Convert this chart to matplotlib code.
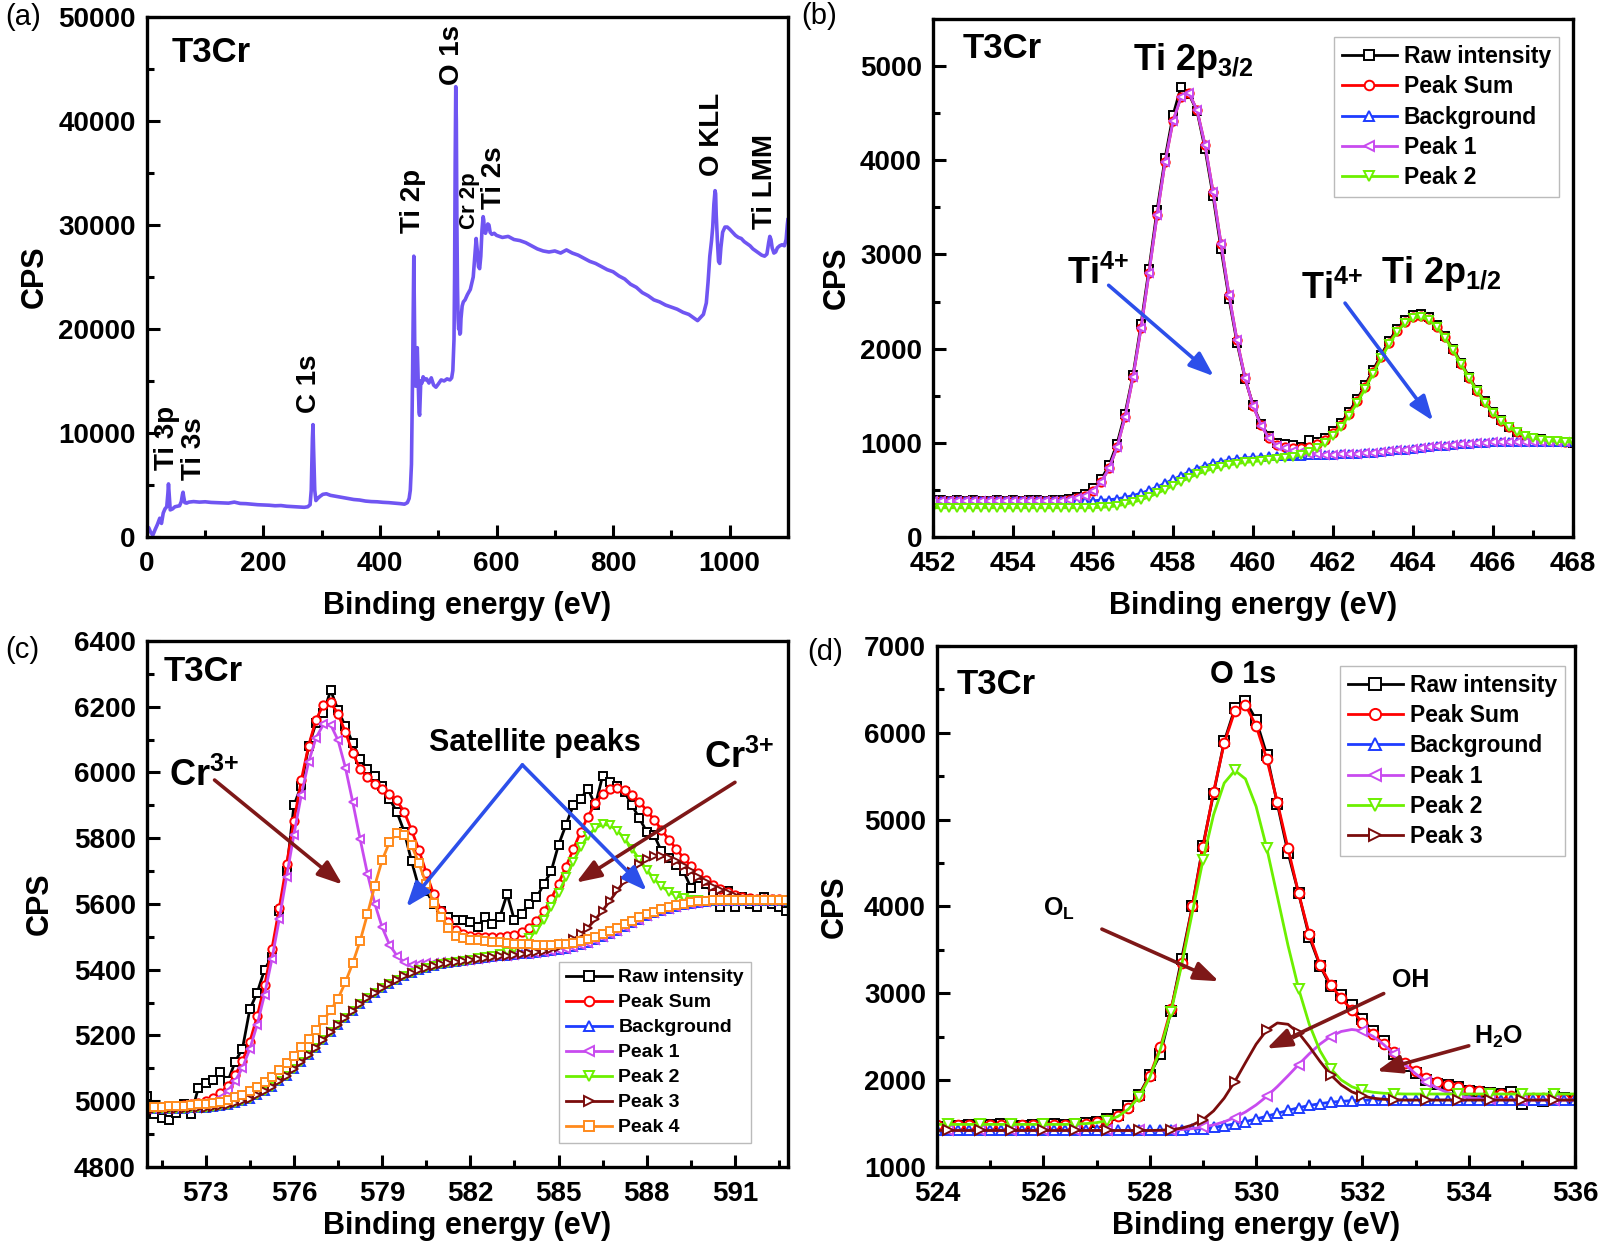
import numpy as np
import matplotlib
matplotlib.use("Agg")
import matplotlib.pyplot as plt
from matplotlib.ticker import MultipleLocator

plt.rcParams['font.family'] = ['Liberation Sans', 'DejaVu Sans']
plt.rcParams['font.weight'] = 'bold'
plt.rcParams['axes.labelweight'] = 'bold'
plt.rcParams['mathtext.default'] = 'regular'

# ---------------- (a) survey spectrum ----------------
survey_ev = [
    0, 3, 6, 10, 14, 18, 22, 25, 28, 31,
    34, 36, 37, 38, 40, 44, 48, 52, 56, 59,
    61, 62, 63, 65, 68, 72, 80, 90, 100, 110,
    120, 130, 140, 150, 160, 170, 180, 190, 200, 210,
    220, 230, 240, 250, 260, 270, 276, 280, 282, 284,
    285, 286, 288, 290, 293, 297, 302, 308, 315, 325,
    335, 345, 355, 365, 375, 385, 395, 405, 415, 425,
    435, 442, 447, 450, 452, 454, 456, 457, 458, 459,
    460, 461, 462, 463, 464, 465, 466, 467, 468, 469,
    470, 472, 474, 477, 480, 484, 488, 492, 496, 500,
    505, 510, 515, 520, 523, 525, 527, 528, 529, 530,
    531, 532, 533, 534, 535, 536, 537, 538, 539, 541,
    543, 546, 550, 555, 560, 563, 565, 567, 569, 571,
    573, 575, 577, 578, 579, 581, 583, 585, 587, 589,
    592, 596, 600, 610, 620, 630, 640, 650, 660, 670,
    680, 690, 700, 710, 720, 730, 740, 750, 760, 770,
    780, 790, 800, 810, 820, 830, 840, 850, 860, 870,
    880, 890, 900, 910, 920, 930, 940, 945, 950, 955,
    960, 963, 966, 969, 971, 973, 975, 976, 977, 979,
    981, 983, 985, 988, 992, 996, 1000, 1005, 1010, 1015,
    1020, 1025, 1030, 1035, 1040, 1045, 1050, 1055, 1060, 1064,
    1067, 1069, 1071, 1073, 1076, 1079, 1082, 1086, 1090, 1094,
    1097, 1099, 1100]
survey_cps = [
    700, 900, 500, 150, 700, 1200, 1800, 1300, 2300, 2700,
    2900, 4200, 5100, 4300, 2600, 2700, 2900, 2950, 3000, 3400,
    4100, 4300, 3900, 3300, 3250, 3350, 3400, 3350, 3380, 3320,
    3300, 3280, 3250, 3350, 3220, 3200, 3150, 3100, 3080, 3050,
    3000, 3020, 2950, 2920, 2880, 2850, 2900, 3100, 4500, 9500,
    10800, 8500, 4500, 3500, 3700, 3900, 4100, 4150, 4000, 3900,
    3800, 3700, 3600, 3550, 3450, 3400, 3380, 3330, 3300, 3250,
    3200, 3150, 3300, 3700, 4500, 7000, 16000, 22000, 27000, 22000,
    16000, 14500, 15500, 17500, 18200, 16000, 13500, 12000, 11700, 13500,
    15000, 14800, 15400, 15100, 15200, 14800, 15300, 14600, 14400, 14700,
    15100, 15000, 15200, 15100, 15300, 16000, 19000, 25000, 36000, 43300,
    40000, 30000, 24000, 21000, 20000, 20500, 19500, 19600, 21000, 22200,
    22600, 22800, 23300, 23800, 25000, 27200, 28700, 27500, 26000, 25800,
    27000, 29500, 30800, 30500, 29500, 29200, 29600, 30100, 30000, 29300,
    29100, 29200, 29000, 28800, 28900, 28600, 28500, 28300, 28000, 27700,
    27500, 27400, 27500, 27300, 27600, 27300, 27100, 26800, 26500, 26300,
    26000, 25700, 25500, 25100, 24800, 24300, 24000, 23500, 23200, 22800,
    22600, 22300, 22100, 21900, 21600, 21400, 21000, 20800, 21100, 21400,
    22500, 24500, 27000, 28500, 29800, 32000, 33300, 33000, 31000, 28500,
    26500, 26300, 27800, 29300, 29800, 29800, 29600, 29300, 29000, 28800,
    28700, 28400, 28200, 28000, 27700, 27500, 27300, 27100, 27000, 27200,
    28300, 28900, 28600, 27800, 27300, 27400, 27800, 28000, 28100, 28000,
    28600, 30000, 30500]

survey_labels = ['Ti 3p', 'Ti 3s', 'C 1s', 'Ti 2p', 'O 1s', 'Cr 2p', 'Ti 2s', 'O KLL', 'Ti LMM']
survey_label_x = [34, 80, 279, 457, 523, 553, 595, 969, 1061]
survey_label_y = [6450, 5500, 11950, 29200, 43440, 29590, 31490, 34710, 29590]

# ---------------- (b) Ti 2p, 452-468 eV every 0.2 eV ----------------
ti_ev = np.round(np.linspace(452, 468, 81), 2)
ti_raw = [392, 388, 380, 395, 385, 390, 384, 378, 392, 386, 395, 383, 389, 391, 380, 387, 396, 405, 425, 460, 525,
          610, 760, 990, 1310, 1720, 2260, 2850, 3470, 4020, 4480, 4780, 4700, 4520, 4120, 3620, 3060, 2530, 2060, 1680, 1400,
          1200, 1070, 1000, 985, 975, 960, 1030, 1010, 1050, 1120, 1210, 1330, 1460, 1610, 1770, 1930, 2080, 2210, 2300, 2360,
          2370, 2340, 2250, 2130, 2000, 1850, 1700, 1560, 1440, 1330, 1245, 1170, 1115, 1075, 1050, 1035, 1020, 1010, 1005, 1000]
ti_sum = [385] * 17 + [397, 411, 439, 490,
          581, 728, 953, 1273, 1698, 2218, 2808, 3415, 3977, 4416, 4672, 4712, 4531, 4162, 3665, 3113, 2568, 2086, 1691, 1393,
          1186, 1051, 977, 956, 944, 942, 955, 984, 1029, 1102, 1194, 1308, 1442, 1591, 1751, 1912, 2062, 2190, 2285, 2339,
          2348, 2312, 2234, 2122, 1987, 1840, 1692, 1553, 1428, 1321, 1234, 1164, 1111, 1074, 1048, 1032, 1021, 1014, 1010, 1008]
ti_bg = [385] * 21 + [390, 395, 405, 420, 440, 465, 495, 530, 570, 610, 650, 690, 725, 755, 780, 800, 815, 828, 838, 845,
          850, 855, 858, 860, 862, 864, 866, 868, 870, 873, 876, 880, 885, 890, 896, 903, 910, 918, 926, 935,
          944, 953, 962, 970, 978, 985, 991, 996, 1000, 1003] + [1005] * 10
ti_p1 = [385] * 17 + [397, 411, 439, 490,
          581, 728, 953, 1273, 1698, 2218, 2808, 3415, 3977, 4416, 4672, 4712, 4531, 4162, 3665, 3113, 2568, 2086, 1691, 1393,
          1183, 1046, 968, 940, 917, 899, 886, 878, 870, 873, 876, 880, 885, 890, 896, 903, 910, 918, 926, 935,
          944, 953, 962, 970, 978, 985, 991, 996, 1000, 1003] + [1005] * 10
ti_p2 = [310] * 21 + [315, 320, 331, 347, 368, 394, 426, 462, 503, 545, 587, 629, 666, 698, 725, 747, 764, 779, 791, 800,
          810, 819, 828, 839, 854, 874, 904, 945, 1002, 1077, 1170, 1286, 1421, 1572, 1733, 1895, 2047, 2176, 2272, 2327,
          2337, 2302, 2226, 2115, 1981, 1835, 1688, 1550, 1426, 1320, 1234, 1164, 1111, 1074, 1048, 1032, 1021, 1014, 1010, 1008]

# ---------------- (c) Cr 2p, 571-592.75 eV every 0.25 eV ----------------
cr_ev = np.round(np.linspace(571, 592.75, 88), 2)
cr_bg = [4975, 4975, 4976, 4976, 4977, 4977, 4978, 4979, 4980, 4982,
         4985, 4989, 4994, 5000, 5008, 5018, 5030, 5044, 5060, 5078,
         5097, 5118, 5140, 5163, 5186, 5209, 5232, 5254, 5275, 5295,
         5313, 5330, 5345, 5358, 5370, 5381, 5390, 5398, 5405, 5411,
         5416, 5420, 5424, 5428, 5431, 5434, 5437, 5439, 5441, 5443,
         5445, 5447, 5449, 5451, 5453, 5456, 5459, 5463, 5468, 5474,
         5481, 5489, 5498, 5508, 5519, 5530, 5541, 5552, 5562, 5571,
         5579, 5586, 5592, 5597, 5601, 5604, 5606, 5608, 5609, 5610] + [5610] * 8
cr_p1 = [4975, 4975, 4976, 4976, 4978, 4978, 4980, 4984, 4988, 4997,
         5011, 5031, 5061, 5102, 5159, 5233, 5324, 5432, 5553, 5683,
         5811, 5931, 6032, 6105, 6146, 6145, 6098, 6015, 5910, 5798,
         5692, 5601, 5529, 5476, 5443, 5423, 5413, 5418, 5420, 5421,
         5422, 5424, 5426, 5428] + cr_bg[44:]
cr_p2 = cr_bg[:44] + [5431, 5435, 5439, 5442, 5447, 5454,
         5464, 5477, 5496, 5520, 5551, 5590, 5634, 5681, 5728, 5772,
         5807, 5831, 5842, 5839, 5823, 5798, 5768, 5735, 5704, 5676,
         5654, 5637, 5625, 5618, 5613, 5611, 5610, 5610, 5610, 5610] + [5610] * 8
cr_p3 = cr_bg[:51] + [5448, 5450, 5453, 5457, 5462, 5469, 5479, 5492, 5508,
         5528, 5553, 5580, 5610, 5641, 5671, 5698, 5721, 5736, 5745,
         5746, 5740, 5730, 5715, 5699, 5682, 5666, 5653, 5641, 5632,
         5625, 5619, 5616, 5613, 5612, 5611, 5611, 5610]
cr_p4 = [4981, 4982, 4983, 4984, 4985, 4986, 4988, 4990, 4992, 4995,
         4999, 5005, 5012, 5020, 5030, 5043, 5058, 5075, 5094, 5116,
         5139, 5164, 5190, 5218, 5246, 5277, 5312, 5362, 5420, 5487,
         5569, 5656, 5733, 5788, 5815, 5811, 5778, 5724, 5661, 5603,
         5561, 5528, 5504, 5496, 5491, 5489, 5487, 5485, 5483, 5481,
         5479, 5478, 5477, 5476, 5475, 5476, 5477, 5479, 5482, 5487,
         5493, 5500, 5508, 5517, 5527, 5538, 5548, 5559, 5568, 5577,
         5584, 5591, 5597, 5601, 5605, 5608, 5610, 5612, 5613, 5613] + [5613] * 8
cr_sum = [4981, 4982, 4983, 4984, 4986, 4987, 4990, 4995, 5000, 5010,
          5025, 5047, 5079, 5122, 5181, 5258, 5352, 5463, 5587, 5721,
          5853, 5977, 6082, 6160, 6206, 6213, 6178, 6123, 6060, 6010,
          5985, 5965, 5950, 5935, 5915, 5880, 5825, 5765, 5695, 5630,
          5580, 5545, 5520, 5508, 5503, 5500, 5499, 5498, 5499, 5502,
          5506, 5514, 5528, 5549, 5578, 5616, 5662, 5713, 5766, 5819,
          5866, 5906, 5934, 5950, 5953, 5947, 5932, 5911, 5884, 5856,
          5826, 5796, 5768, 5740, 5715, 5693, 5674, 5659, 5646, 5635,
          5628, 5622, 5619, 5616, 5615, 5614, 5614, 5613]
cr_raw = [5015, 4960, 4950, 4942, 4965, 4990, 4960, 5040, 5055, 5065,
          5090, 5060, 5120, 5160, 5280, 5330, 5400, 5440, 5580, 5700,
          5900, 5960, 6080, 6150, 6180, 6250, 6190, 6140, 6090, 6040,
          6010, 5990, 5960, 5920, 5880, 5820, 5730, 5650, 5640, 5600,
          5580, 5560, 5550, 5550, 5545, 5530, 5560, 5540, 5560, 5630,
          5550, 5570, 5600, 5620, 5660, 5700, 5780, 5840, 5900, 5920,
          5950, 5900, 5990, 5970, 5960, 5940, 5900, 5860, 5820, 5810,
          5760, 5740, 5720, 5700, 5650, 5680, 5660, 5630, 5590, 5640,
          5590, 5620, 5600, 5590, 5620, 5600, 5590, 5580]

# ---------------- (d) O 1s, 524-536 eV every 0.2 eV ----------------
o_ev = np.round(np.linspace(524, 536, 61), 2)
o_bg = [1420] * 23 + [1425, 1432, 1442, 1456, 1474, 1496, 1522, 1552, 1584, 1618, 1651, 1682,
                      1708, 1729, 1745, 1756, 1763, 1768] + [1770] * 20
o_p1 = [1420] * 22 + [1423, 1430, 1441, 1458, 1484, 1520, 1569, 1633, 1714, 1812, 1926, 2050, 2179,
                      2303, 2414, 2502, 2560, 2583,
                      2568, 2504, 2409, 2297, 2180, 2073, 1981, 1909, 1857, 1822, 1799, 1785,
                      1778, 1774, 1772, 1771] + [1770] * 5
o_p2 = [1490] * 13 + [1494, 1499, 1510, 1534, 1581, 1666, 1808, 2031, 2355, 2789, 3326, 3928, 4531,
                      5056, 5421, 5566, 5469, 5152, 4673, 4114, 3552, 3051, 2643, 2340, 2133, 2002,
                      1924, 1882, 1860, 1849, 1844] + [1840] * 17
o_p3 = [1420] * 21 + [1423, 1429, 1447, 1482, 1544, 1645, 1792, 1984, 2201, 2413, 2576, 2658, 2643,
                      2543, 2387, 2217, 2063, 1945, 1865, 1818, 1792, 1779, 1773] + [1770] * 17
o_sum = [1480] * 13 + [1490, 1500, 1515, 1540, 1590, 1680, 1820, 2050, 2380, 2820, 3350, 4000, 4680,
                       5320, 5880, 6250, 6320, 6080, 5700, 5200, 4670, 4150, 3680, 3330, 3100, 2940,
                       2810, 2660, 2530, 2420, 2320, 2200, 2110, 2030, 1975, 1945, 1915, 1890, 1870,
                       1850, 1835, 1820, 1805, 1795, 1790, 1785, 1780, 1778]
o_raw = [1460, 1440, 1475, 1480, 1470, 1485, 1490, 1480, 1470, 1488, 1500, 1495, 1485,
         1495, 1505, 1520, 1550, 1600, 1700, 1830, 2060, 2300, 2800, 3400, 4000, 4700,
         5300, 5900, 6280, 6370, 6150, 5750, 5180, 4620, 4150, 3650, 3320, 3080, 2980,
         2860, 2700, 2560, 2450, 2300, 2160, 2080, 2000, 1960, 1940, 1920, 1880, 1860,
         1850, 1840, 1860, 1720, 1770, 1760, 1800, 1790, 1780]

styles = {
    'Raw intensity': ('#000000', 's'),
    'Peak Sum': ('#FF0000', 'o'),
    'Background': ('#1E3CFF', '^'),
    'Peak 1': ('#C84BEF', '<'),
    'Peak 2': ('#6CF000', 'v'),
    'Peak 3': ('#7A0C0C', '>'),
    'Peak 4': ('#FF8A1C', 's'),
}
maroon = '#7E1818'
arrow_blue = '#2C4FEA'


def setup(ax, xlim, ylim, xmaj, xmin, ymaj, ymin, xpad, ypad):
    ax.set_xlim(xlim)
    ax.set_ylim(ylim)
    ax.xaxis.set_major_locator(MultipleLocator(xmaj))
    ax.xaxis.set_minor_locator(MultipleLocator(xmin))
    ax.yaxis.set_major_locator(MultipleLocator(ymaj))
    ax.yaxis.set_minor_locator(MultipleLocator(ymin))
    ax.ticklabel_format(useOffset=False, style='plain')
    ax.tick_params(which='both', direction='in', top=False, right=False, width=2.2)
    ax.tick_params(which='major', length=9, labelsize=20)
    ax.tick_params(axis='x', which='major', pad=10)
    ax.tick_params(axis='y', which='major', pad=8)
    ax.tick_params(which='minor', length=5)
    for s in ax.spines.values():
        s.set_linewidth(2.4)
    ax.set_xlabel('Binding energy (eV)', fontsize=22, fontweight='bold', labelpad=xpad)
    ax.set_ylabel('CPS', fontsize=22, fontweight='bold', labelpad=ypad)


def draw(ax, ev, series, ms, every):
    for name, y in series:
        c, m = styles[name]
        ax.plot(ev, y, color=c, lw=2, marker=m, ms=ms, mfc='white', mec=c, mew=1.4,
                markevery=every.get(name, 1), label=name)


def arrow(ax, tail, tip, color):
    ax.annotate('', xy=tip, xytext=tail,
                arrowprops=dict(arrowstyle='-|>,head_length=0.75,head_width=0.28', color=color,
                                lw=2.6, shrinkA=0, shrinkB=0, mutation_scale=20))


def legend(ax, loc, anchor, size, spacing):
    ax.legend(loc=loc, bbox_to_anchor=anchor, borderaxespad=0, fontsize=size,
              fancybox=False, edgecolor='#BBBBBB', framealpha=1, handlelength=2.4,
              handletextpad=0.3, labelspacing=spacing, borderpad=0.35, markerscale=1.15)


fig = plt.figure(figsize=(16.04, 12.49), dpi=100)
ax_a = fig.add_axes([0.0916, 0.5701, 0.3996, 0.4163])
ax_b = fig.add_axes([0.5817, 0.5701, 0.3990, 0.4147])
ax_c = fig.add_axes([0.0916, 0.0657, 0.3996, 0.4211])
ax_d = fig.add_axes([0.5842, 0.0657, 0.3978, 0.4171])

# (a)
ax_a.plot(survey_ev, survey_cps, color='#6F55F2', lw=2.6)
setup(ax_a, (0, 1100), (0, 50000), 200, 100, 10000, 5000, 10, 6)
for lab, x, y in zip(survey_labels, survey_label_x, survey_label_y):
    ax_a.text(x, y, lab, rotation=90, ha='center', va='bottom',
              fontsize=16 if lab == 'Cr 2p' else 20)
ax_a.text(0.039, 0.913, 'T3Cr', transform=ax_a.transAxes, fontsize=25, va='baseline')

# (b)
draw(ax_b, ti_ev, [('Raw intensity', ti_raw), ('Peak Sum', ti_sum), ('Background', ti_bg),
                   ('Peak 1', ti_p1), ('Peak 2', ti_p2)], 6, {})
setup(ax_b, (452, 468), (0, 5500), 2, 1, 1000, 500, 10, 6)
ax_b.text(0.046, 0.925, 'T3Cr', transform=ax_b.transAxes, fontsize=25, va='baseline')
ax_b.text(457.0, 4958, 'Ti 2p$_{3/2}$', fontsize=26, va='baseline')
ax_b.text(455.36, 2685, 'Ti$^{4{+}}$', fontsize=26, va='baseline')
ax_b.text(461.2, 2525, 'Ti$^{4{+}}$', fontsize=26, va='baseline')
ax_b.text(463.2, 2693, 'Ti 2p$_{1/2}$', fontsize=26, va='baseline')
arrow(ax_b, (456.39, 2672), (459.02, 1707), arrow_blue)
arrow(ax_b, (462.3, 2483), (464.5, 1233), arrow_blue)
legend(ax_b, 'upper right', (0.978, 0.965), 16.5, 0.32)

# (c)
draw(ax_c, cr_ev, [('Raw intensity', cr_raw), ('Peak Sum', cr_sum), ('Background', cr_bg),
                   ('Peak 1', cr_p1), ('Peak 2', cr_p2), ('Peak 3', cr_p3), ('Peak 4', cr_p4)], 6, {})
setup(ax_c, (571, 592.8), (4800, 6400), 3, 1.5, 200, 100, 3, 14)
ax_c.text(0.026, 0.923, 'T3Cr', transform=ax_c.transAxes, fontsize=25, va='baseline')
ax_c.text(571.75, 5958, 'Cr$^{3{+}}$', fontsize=26, va='baseline')
ax_c.text(589.96, 6014, 'Cr$^{3{+}}$', fontsize=26, va='baseline')
ax_c.text(584.2, 6064, 'Satellite peaks', fontsize=22, ha='center', va='baseline')
arrow(ax_c, (573.3, 5977), (577.65, 5659), maroon)
arrow(ax_c, (591.0, 5970), (585.6, 5665), maroon)
arrow(ax_c, (583.77, 6023), (579.82, 5591), arrow_blue)
arrow(ax_c, (583.77, 6023), (588.0, 5640), arrow_blue)
legend(ax_c, 'lower right', (0.942, 0.045), 14, 0.38)

# (d)
draw(ax_d, o_ev, [('Raw intensity', o_raw), ('Peak Sum', o_sum), ('Background', o_bg),
                  ('Peak 1', o_p1), ('Peak 2', o_p2), ('Peak 3', o_p3)], 7,
     {'Peak 1': (1, 3), 'Peak 2': (1, 3), 'Peak 3': (1, 3)})
setup(ax_d, (524, 536), (1000, 7000), 2, 1, 1000, 500, 3, 10)
ax_d.text(0.031, 0.908, 'T3Cr', transform=ax_d.transAxes, fontsize=25, va='baseline')
ax_d.text(529.75, 6568, 'O 1s', fontsize=22, ha='center', va='baseline')
ax_d.text(526.0, 3890, 'O$_L$', fontsize=18, va='baseline')
ax_d.text(532.55, 3067, 'OH', fontsize=18, va='baseline')
ax_d.text(534.1, 2424, 'H$_2$O', fontsize=18, va='baseline')
arrow(ax_d, (527.1, 3739), (529.3, 3138), maroon)
arrow(ax_d, (532.4, 2997), (530.2, 2363), maroon)
arrow(ax_d, (534.0, 2395), (532.27, 2104), maroon)
legend(ax_d, 'upper right', (0.984, 0.962), 16.5, 0.32)

for lab, x, y in [('(a)', 5, 17), ('(b)', 801, 16), ('(c)', 5, 650), ('(d)', 807, 652)]:
    fig.text(x / 1604, 1 - y / 1249, lab, fontsize=21, fontweight='normal', va='center', ha='left')

fig.savefig('out.png', dpi=100)
